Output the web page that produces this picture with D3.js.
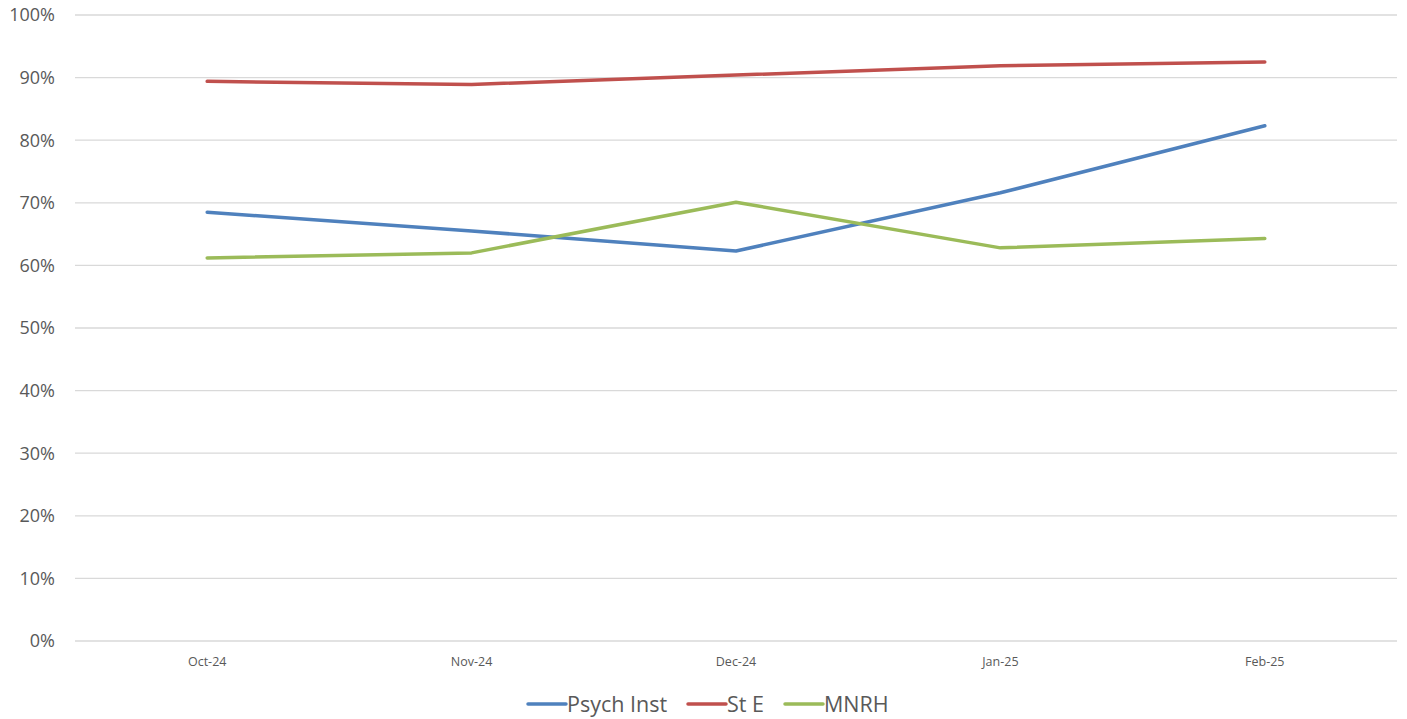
<!DOCTYPE html>
<head>
<style>
    body { margin: 0; background: #fff; }
    text { font-family: "Open Sans", "Noto Sans", sans-serif; fill: #595959; }
</style>
</head>

<body>
    <svg id="container" height="719" width="1407"></svg>
</body>

<script src="https://d3js.org/d3.v7.min.js"></script>
<script>

    let months = ["Oct-24", "Nov-24", "Dec-24", "Jan-25", "Feb-25"]
    let psychInst = [0.685, 0.655, 0.623, 0.716, 0.823]
    let stE = [0.894, 0.889, 0.904, 0.919, 0.925]
    let mnrh = [0.612, 0.620, 0.701, 0.628, 0.643]
    let yTicks = [0, 0.1, 0.2, 0.3, 0.4, 0.5, 0.6, 0.7, 0.8, 0.9, 1]

    let series = [
        { name: "Psych Inst", values: psychInst, color: "#4F81BD" },
        { name: "St E", values: stE, color: "#C0504D" },
        { name: "MNRH", values: mnrh, color: "#9BBB59" }
    ]

    let svg = d3.select("#container")
    let plotLeft = 75, plotRight = 1397, plotTop = 15, plotBottom = 641

    let x = d3.scaleBand().domain(months).range([plotLeft, plotRight])
    let y = d3.scaleLinear().domain([0, 1]).range([plotBottom, plotTop])

    // gridlines
    svg.append("g")
        .selectAll("line")
        .data(yTicks)
        .enter()
        .append("line")
        .attr("x1", plotLeft)
        .attr("x2", plotRight)
        .attr("y1", d => y(d))
        .attr("y2", d => y(d))
        .attr("stroke", "#d9d9d9")
        .attr("stroke-width", 1.3)

    // y labels
    svg.append("g")
        .selectAll("text")
        .data(yTicks)
        .enter()
        .append("text")
        .attr("x", 55)
        .attr("y", d => y(d))
        .attr("dy", "0.35em")
        .attr("text-anchor", "end")
        .style("font-size", "18px")
        .text(d => d3.format(".0%")(d))

    // x labels
    svg.append("g")
        .selectAll("text")
        .data(months)
        .enter()
        .append("text")
        .attr("x", d => x(d) + x.bandwidth() / 2)
        .attr("y", 666)
        .attr("text-anchor", "middle")
        .style("font-size", "12.5px")
        .text(d => d)

    let line = d3.line()
        .x((d, i) => x(months[i]) + x.bandwidth() / 2)
        .y(d => y(d))

    svg.append("g")
        .selectAll("path")
        .data(series)
        .enter()
        .append("path")
        .attr("d", d => line(d.values))
        .attr("fill", "none")
        .attr("stroke", d => d.color)
        .attr("stroke-width", 3.5)
        .attr("stroke-linecap", "round")
        .attr("stroke-linejoin", "round")

    // legend
    let legendX = [528, 688, 785]
    let legend = svg.append("g")
        .selectAll("g")
        .data(series)
        .enter()
        .append("g")
        .attr("transform", (d, i) => `translate(${legendX[i]},704)`)

    legend.append("line")
        .attr("x1", 0)
        .attr("x2", 38)
        .attr("stroke", d => d.color)
        .attr("stroke-width", 3.5)
        .attr("stroke-linecap", "round")

    legend.append("text")
        .attr("x", 39)
        .attr("dy", "0.35em")
        .style("font-size", "21.5px")
        .text(d => d.name)

</script>
